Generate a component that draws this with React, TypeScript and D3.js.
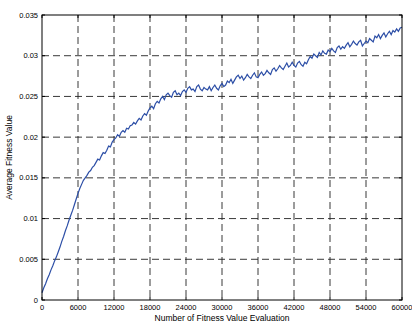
import React from 'react';
import * as d3 from 'd3';

// evaluations sampled every 300 steps, 0..60000
const evalStep = 300;
const fitnessValues = [
  0.0009, 0.0015, 0.0020, 0.0026, 0.0031, 0.0037, 0.0042, 0.0048, 0.0053, 0.0059,
  0.0065, 0.0072, 0.0078, 0.0085, 0.0091, 0.0098, 0.0104, 0.0110, 0.0117, 0.0124,
  0.0131, 0.0137, 0.0142, 0.0147, 0.0150, 0.0153, 0.0157, 0.0159, 0.0163, 0.0165,
  0.0169, 0.0173, 0.0172, 0.0177, 0.0181, 0.0180, 0.0184, 0.0189, 0.0188, 0.0194,
  0.0197, 0.0199, 0.0203, 0.0201, 0.0206, 0.0208, 0.0206, 0.0211, 0.0210, 0.0214,
  0.0215, 0.0218, 0.0216, 0.0220, 0.0223, 0.0221, 0.0226, 0.0229, 0.0227, 0.0232,
  0.0236, 0.0238, 0.0235, 0.0241, 0.0244, 0.0242, 0.0247, 0.0250, 0.0246, 0.0252,
  0.0254, 0.0251, 0.0249, 0.0255, 0.0257, 0.0252, 0.0254, 0.0251, 0.0256, 0.0258,
  0.0255, 0.0260, 0.0262, 0.0258, 0.0259, 0.0256, 0.0262, 0.0264, 0.0259, 0.0257,
  0.0261, 0.0259, 0.0258, 0.0262, 0.0257, 0.0261, 0.0264, 0.0260, 0.0258, 0.0263,
  0.0266, 0.0262, 0.0264, 0.0269, 0.0267, 0.0271, 0.0266, 0.0270, 0.0274, 0.0276,
  0.0272, 0.0275, 0.0270, 0.0273, 0.0277, 0.0274, 0.0272, 0.0276, 0.0279, 0.0274,
  0.0273, 0.0277, 0.0280, 0.0276, 0.0278, 0.0282, 0.0279, 0.0277, 0.0283, 0.0285,
  0.0281, 0.0284, 0.0288, 0.0285, 0.0283, 0.0287, 0.0291, 0.0286, 0.0288, 0.0292,
  0.0288, 0.0286, 0.0291, 0.0293, 0.0289, 0.0287, 0.0292, 0.0290, 0.0295, 0.0299,
  0.0297, 0.0302, 0.0300, 0.0298, 0.0304, 0.0301, 0.0306, 0.0303, 0.0302, 0.0307,
  0.0305, 0.0309, 0.0306, 0.0304, 0.0310, 0.0312, 0.0308, 0.0311, 0.0309, 0.0313,
  0.0316, 0.0311, 0.0314, 0.0318, 0.0315, 0.0313, 0.0317, 0.0319, 0.0312, 0.0315,
  0.0318, 0.0316, 0.0321, 0.0319, 0.0317, 0.0324, 0.0322, 0.0326, 0.0321, 0.0325,
  0.0328, 0.0323, 0.0327, 0.0330, 0.0326, 0.0331, 0.0329, 0.0333, 0.0330, 0.0334,
  0.0335,
];

const xTicks = [0, 6000, 12000, 18000, 24000, 30000, 36000, 42000, 48000, 54000, 60000];
const yTicks = [0, 0.005, 0.01, 0.015, 0.02, 0.025, 0.03, 0.035];

const W = 412;
const H = 322;
const margin = { top: 15, right: 10, bottom: 22, left: 42 };

export default function App() {
  const innerW = W - margin.left - margin.right;
  const innerH = H - margin.top - margin.bottom;

  const x = d3.scaleLinear().domain([0, 60000]).range([0, innerW]);
  const y = d3.scaleLinear().domain([0, 0.035]).range([innerH, 0]);

  const line = d3
    .line<number>()
    .x((_, i) => x(i * evalStep))
    .y(d => y(d));

  const font = 'Arial, "Liberation Sans", Helvetica, sans-serif';
  const tickLen = 3;

  return (
    <svg
      width={W}
      height={H}
      style={{ position: 'absolute', left: 0, top: 0, background: '#fff' }}
    >
      <g transform={`translate(${margin.left},${margin.top})`}>
        {/* dashed grid */}
        {xTicks.slice(1, -1).map(t => (
          <line key={'gx' + t} x1={x(t)} x2={x(t)} y1={0} y2={innerH}
            stroke="#222" strokeWidth={0.9} strokeDasharray="7,4" />
        ))}
        {yTicks.slice(1, -1).map(t => (
          <line key={'gy' + t} x1={0} x2={innerW} y1={y(t)} y2={y(t)}
            stroke="#222" strokeWidth={0.9} strokeDasharray="7,4" />
        ))}

        <path d={line(fitnessValues) || ''} fill="none" stroke="#2c4ea6" strokeWidth={1.2} />

        {/* box */}
        <rect x={0} y={0} width={innerW} height={innerH} fill="none" stroke="#000" strokeWidth={1} />

        {/* inside ticks */}
        {xTicks.map(t => (
          <g key={'tx' + t}>
            <line x1={x(t)} x2={x(t)} y1={innerH} y2={innerH - tickLen} stroke="#000" />
            <line x1={x(t)} x2={x(t)} y1={0} y2={tickLen} stroke="#000" />
            <text x={x(t)} y={innerH + 10} textAnchor="middle" fontSize={7.5} fontFamily={font}>
              {t}
            </text>
          </g>
        ))}
        {yTicks.map(t => (
          <g key={'ty' + t}>
            <line x1={0} x2={tickLen} y1={y(t)} y2={y(t)} stroke="#000" />
            <line x1={innerW} x2={innerW - tickLen} y1={y(t)} y2={y(t)} stroke="#000" />
            <text x={-4} y={y(t)} dy="0.35em" textAnchor="end" fontSize={7.5} fontFamily={font}>
              {d3.format('')(t)}
            </text>
          </g>
        ))}

        <text x={innerW / 2} y={innerH + 21} textAnchor="middle" fontSize={8.5} fontFamily={font}>
          Number of Fitness Value Evaluation
        </text>
        <text
          transform={`translate(${-30},${innerH / 2}) rotate(-90)`}
          textAnchor="middle"
          fontSize={8.5}
          fontFamily={font}
        >
          Average Fitness Value
        </text>
      </g>
    </svg>
  );
}
